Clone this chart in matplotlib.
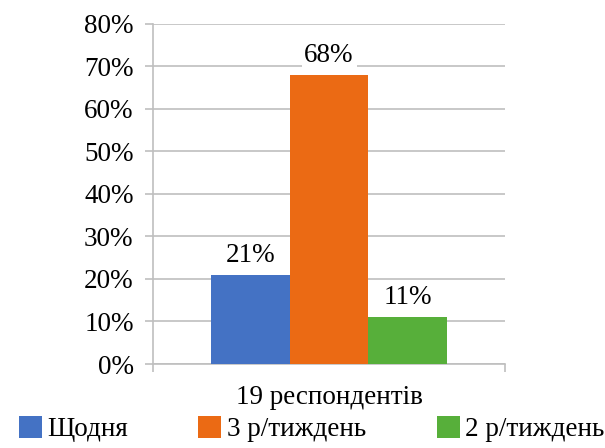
import matplotlib
matplotlib.use("Agg")
import matplotlib.pyplot as plt
from matplotlib.patches import Patch

plt.rcParams['font.family'] = ['Liberation Serif', 'DejaVu Serif']

category = "19 респондентів"
series = ["Щодня", "3 р/тиждень", "2 р/тиждень"]
values = [21, 68, 11]
colors = ["#4472C4", "#EB6A14", "#57AF3A"]
yticks = [0, 10, 20, 30, 40, 50, 60, 70, 80]

FS = 19.5

fig = plt.figure(figsize=(6.05, 4.48), dpi=100)
ax = fig.add_axes([0.253, 0.1875, 0.582, 0.759])

positions = [-1, 0, 1]
ax.bar(positions, values, width=1.0, color=colors, zorder=3)

for x, v in zip(positions, values):
    ax.text(x, v + 1.6, f"{v}%", ha="center", va="bottom", fontsize=FS,
            zorder=4, bbox=dict(facecolor="white", edgecolor="none", pad=2))

edge = 2.237
ax.set_xlim(-edge, edge)
ax.set_ylim(0, 80)
ax.set_yticks(yticks)
ax.set_yticklabels([f"{t}%" for t in yticks], fontsize=FS)
ax.yaxis.grid(True, color="#BFBFBF", linewidth=1.2, zorder=0)
ax.set_axisbelow(True)
ax.tick_params(axis="y", length=6, color="#BFBFBF", width=1.2, pad=8)

ax.set_xticks([0])
ax.set_xticklabels([category], fontsize=FS)
ax.tick_params(axis="x", which="major", length=0, pad=15)
ax.set_xticks([-edge, edge], minor=True)
ax.tick_params(axis="x", which="minor", length=6, color="#BFBFBF", width=1.2)

for s in ["top", "right"]:
    ax.spines[s].set_visible(False)
for s in ["left", "bottom"]:
    ax.spines[s].set_color("#BFBFBF")
    ax.spines[s].set_linewidth(1.2)

handles = [Patch(facecolor=c, edgecolor="none") for c in colors]
fig.legend(handles, series, loc="lower center", bbox_to_anchor=(0.515, -0.042),
           ncol=3, frameon=False, fontsize=FS, handlelength=0.85,
           handleheight=0.85, handletextpad=0.2, columnspacing=2.6)

fig.savefig("out.png", dpi=100)
